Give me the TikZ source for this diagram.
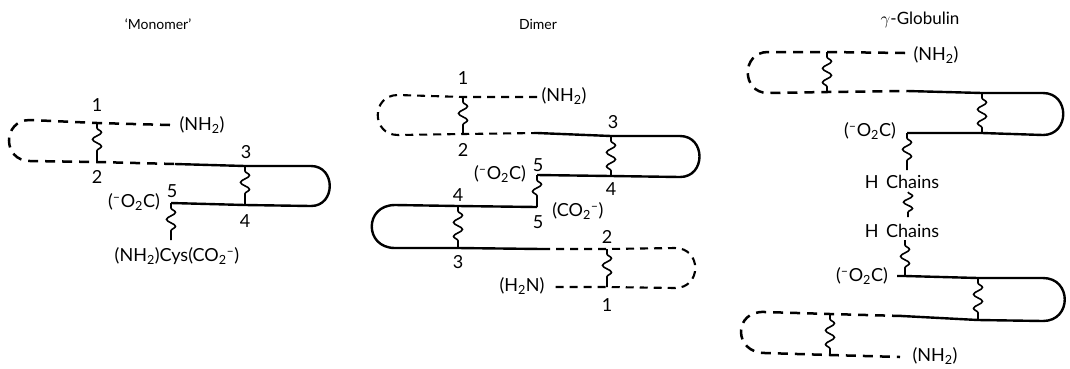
\documentclass[tikz,border=0pt]{standalone}
\usepackage{fontspec}
\setmainfont{Lato}
\usetikzlibrary{decorations.pathmorphing}
\newcommand{\minusO}{(\textsuperscript{--}O\textsubscript{2}C)}
\newcommand{\nhtwo}{(NH\textsubscript{2})}
\newcommand{\cotwo}{(CO\textsubscript{2}\textsuperscript{--})}
\begin{document}
\begin{tikzpicture}[
		x=1pt, y=-1pt,
		every node/.style={font=\fontsize{18}{20}\selectfont, inner sep=0pt},
		title/.style={font=\fontsize{14}{16}\selectfont},
		solid chain/.style={line width=2.4pt},
		dashed chain/.style={line width=2.5pt, dash pattern=on 10pt off 7pt},
		thin dashes/.style={line width=2.1pt, dash pattern=on 8pt off 6pt},
		bond/.style={line width=1.6pt, decorate, decoration={snake, segment length=14pt, amplitude=4.5pt, pre length=5pt, post length=5pt}},
		free bond/.style={line width=1.6pt, decorate, decoration={snake, segment length=12.5pt, amplitude=4.5pt}},
	]
	\useasboundingbox (0,0) rectangle (1070,368);
	% Monomer
	\node[title] (mtitle) at (158,24) {`Monomer'};
	\coordinate (m1) at (97,123);
	\coordinate (m2) at (97,162);
	\coordinate (m3) at (245,166);
	\coordinate (m4) at (245,205);
	\coordinate (m5) at (171,203);
	\coordinate (mend) at (171,240);
	\draw[dashed chain] (170,125) -- (m1) -- (30,120) .. controls (2,120) and (2,161) .. (30,161) -- (m2) -- (175,164);
	\draw[solid chain] (175,164) -- (m3) -- (311,166) .. controls (336,166) and (336,206) .. (311,206) -- (m4) -- (m5);
	\draw[bond] (m1) -- (m2);
	\draw[bond] (m3) -- (m4);
	\draw[bond] (m5) -- (mend);
	\node (mn1) at (97,105) {1};
	\node (mn2) at (97,177) {2};
	\node (mn3) at (246,152) {3};
	\node (mn4) at (245,221) {4};
	\node (mn5) at (172,191) {5};
	\node (mnh) at (202,125) {\nhtwo};
	\node (mco) at (134,202) {\minusO};
	\node (mcys) at (177,256) {(NH\textsubscript{2})Cys\cotwo};
	% Dimer
	\node[title] (dtitle) at (538,24) {Dimer};
	\coordinate (a1) at (463,97);
	\coordinate (a2) at (463,134);
	\coordinate (a3) at (611,136);
	\coordinate (a4) at (611,176);
	\coordinate (a5) at (537,175);
	\coordinate (b5) at (537,207);
	\coordinate (b4) at (458,206);
	\coordinate (b3) at (458,248);
	\coordinate (b2) at (607,249);
	\coordinate (b1) at (607,287);
	\draw[thin dashes] (537,97) -- (a1) -- (398,95) .. controls (371,95) and (371,135) .. (398,135) -- (a2) -- (537,133);
	\draw[solid chain] (537,133) -- (a3) -- (680,136) .. controls (706,136) and (706,177) .. (680,177) -- (a4) -- (a5);
	\draw[solid chain] (b5) -- (b4) -- (395,205) .. controls (364,205) and (364,248) .. (395,248) -- (b3) -- (542,249);
	\draw[thin dashes] (542,249) -- (b2) -- (675,248) .. controls (702,248) and (702,288) .. (675,288) -- (b1) -- (550,287);
	\draw[bond] (a1) -- (a2);
	\draw[bond] (a3) -- (a4);
	\draw[bond] (a5) -- (b5);
	\draw[bond] (b4) -- (b3);
	\draw[bond] (b2) -- (b1);
	\node (dn1) at (463,78) {1};
	\node (dn2) at (463,150) {2};
	\node (dn3) at (613,122) {3};
	\node (dn4) at (611,189) {4};
	\node (dn5) at (538,165) {5};
	\node (dnh) at (564,96) {\nhtwo};
	\node (dco) at (500,174) {\minusO};
	\node (en4) at (458,195) {4};
	\node (en5) at (538,222) {5};
	\node (eco) at (578,211) {\cotwo};
	\node (en2) at (607,237) {2};
	\node (en3) at (458,262) {3};
	\node (enh) at (522,286) {(H\textsubscript{2}N)};
	\node (en1) at (607,305) {1};
	% Globulin
	\node[font=\fontsize{17}{19}\selectfont] (gtitle) at (920,20) {$\gamma$-Globulin};
	\coordinate (g1) at (827,52);
	\coordinate (g2) at (827,92);
	\coordinate (g3) at (982,93);
	\coordinate (g4) at (982,133);
	\coordinate (g5) at (907,133);
	\coordinate (g6) at (907,170);
	\coordinate (h1) at (908,192);
	\coordinate (h2) at (908,217);
	\coordinate (k6) at (905,240);
	\coordinate (k5) at (905,276);
	\coordinate (k4) at (978,278);
	\coordinate (k3) at (978,320);
	\coordinate (k2) at (830,314);
	\coordinate (k1) at (830,355);
	\draw[dashed chain] (905,53) -- (g1) -- (768,52) .. controls (741,52) and (741,93) .. (768,93) -- (g2) -- (907,91);
	\draw[solid chain] (907,91) -- (g3) -- (1043,93) .. controls (1070,93) and (1070,135) .. (1043,135) -- (g4) -- (g5);
	\draw[solid chain] (897,276) -- (k5) -- (k4) -- (1043,278) .. controls (1072,278) and (1072,321) .. (1043,321) -- (k3) -- (902,316);
	\draw[dashed chain] (902,316) -- (k2) -- (765,312) .. controls (733,310) and (733,353) .. (765,353) -- (k1) -- (900,357);
	\draw[bond] (g1) -- (g2);
	\draw[bond] (g3) -- (g4);
	\draw[bond] (g5) -- (g6);
	\draw[free bond] (h1) -- (h2);
	\draw[bond] (k6) -- (k5);
	\draw[bond] (k4) -- (k3);
	\draw[bond] (k2) -- (k1);
	\node (gnh) at (936,55) {\nhtwo};
	\node (gco) at (870,131) {\minusO};
	\node (gh1) at (902,182) {H\, Chains};
	\node (gh2) at (902,231) {H\, Chains};
	\node (kco) at (862,276) {\minusO};
	\node (knh) at (935,356) {\nhtwo};
	\end{tikzpicture}
\end{document}
